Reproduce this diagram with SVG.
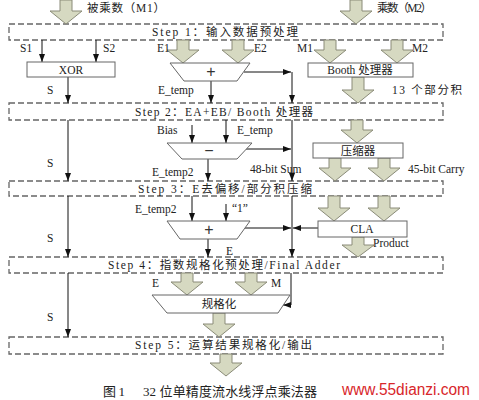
<svg xmlns="http://www.w3.org/2000/svg" width="479" height="400" viewBox="0 0 479 400">
<defs>
<style>
.step{fill:none;stroke:#666;stroke-width:1.3;stroke-dasharray:6 3}
.box{fill:#fff;stroke:#666;stroke-width:1}
.fat{fill:#d6d9c1;stroke:#8a8b78;stroke-width:1}
.ln{fill:none;stroke:#111;stroke-width:1}
.t{font-family:"Liberation Serif","Noto Sans CJK SC",serif;font-size:11.5px;fill:#222}
.c{text-anchor:middle}
.op{font-family:"Liberation Sans",sans-serif;font-size:16px;fill:#333;text-anchor:middle}
</style>
<marker id="ah" viewBox="0 0 8 6" refX="8" refY="3" markerWidth="8" markerHeight="6" orient="auto" markerUnits="userSpaceOnUse"><path d="M0,0 L8,3 L0,6 z" fill="#111"/></marker>
</defs>
<rect width="479" height="400" fill="#fff"/>

<g id="step1"><rect class="step" x="9" y="24" width="434" height="16"/><text class="t" x="152" y="36" textLength="146" lengthAdjust="spacing">Step 1：输入数据预处理</text></g>
<g id="step2"><rect class="step" x="9" y="103" width="434" height="17"/><text class="t" x="135" y="116" textLength="178" lengthAdjust="spacing">Step 2：EA+EB/ Booth 处理器</text></g>
<g id="step3"><rect class="step" x="9" y="181" width="434" height="15"/><text class="t" x="138" y="193" textLength="174" lengthAdjust="spacing">Step 3：E去偏移/部分积压缩</text></g>
<g id="step4"><rect class="step" x="9" y="257" width="434" height="16"/><text class="t" x="108" y="269" textLength="232" lengthAdjust="spacing">Step 4：指数规格化预处理/Final Adder</text></g>
<g id="step5"><rect class="step" x="9" y="337" width="434" height="17"/><text class="t" x="135" y="349" textLength="177" lengthAdjust="spacing">Step 5：运算结果规格化/输出</text></g>

<g id="connectors">
<path class="fat" d="M60 0 H72 V11 H82 L66 24 L50 11 H60 Z"/>
<path class="fat" d="M350 0 H362 V11 H372 L356 24 L340 11 H350 Z"/>
<path class="fat" d="M177 40 H189 V50 H199 L183 63 L167 50 H177 Z"/>
<path class="fat" d="M232 40 H244 V50 H254 L238 63 L222 50 H232 Z"/>
<path class="fat" d="M324 40 H336 V50 H346 L330 63 L314 50 H324 Z"/>
<path class="fat" d="M391 40 H403 V50 H413 L397 63 L381 50 H391 Z"/>
<path class="fat" d="M352 77 H364 V90 H374 L358 103 L342 90 H352 Z"/>
<path class="fat" d="M351 120 H363 V130 H373 L357 143 L341 130 H351 Z"/>
<path class="fat" d="M329 158 H341 V168 H351 L335 181 L319 168 H329 Z"/>
<path class="fat" d="M378 158 H390 V168 H400 L384 181 L368 168 H378 Z"/>
<path class="fat" d="M328 196 H340 V208 H350 L334 221 L318 208 H328 Z"/>
<path class="fat" d="M378 196 H390 V208 H400 L384 221 L368 208 H378 Z"/>
<path class="fat" d="M352 237 H364 V245 H374 L358 257 L342 245 H352 Z"/>
<path class="fat" d="M181 273 H193 V282 H203 L187 295 L171 282 H181 Z"/>
<path class="fat" d="M245 273 H257 V282 H267 L251 295 L235 282 H245 Z"/>
<path class="fat" d="M213 313 H225 V324 H235 L219 337 L203 324 H213 Z"/>
<path class="fat" d="M220 354 H232 V363 H242 L226 376 L210 363 H220 Z"/>

<line class="ln" x1="42" y1="40" x2="42" y2="62" marker-end="url(#ah)"/>
<line class="ln" x1="96" y1="40" x2="96" y2="62" marker-end="url(#ah)"/>
<line class="ln" x1="68" y1="77" x2="68" y2="103" marker-end="url(#ah)"/>
<line class="ln" x1="68" y1="120" x2="68" y2="181" marker-end="url(#ah)"/>
<line class="ln" x1="68" y1="196" x2="68" y2="257" marker-end="url(#ah)"/>
<line class="ln" x1="68" y1="273" x2="68" y2="337" marker-end="url(#ah)"/>

<line class="ln" x1="211" y1="81" x2="211" y2="103" marker-end="url(#ah)"/>
<line class="ln" x1="244" y1="72" x2="291" y2="72" marker-end="url(#ah)"/>
<line class="ln" x1="292" y1="72" x2="292" y2="103" marker-end="url(#ah)"/>

<line class="ln" x1="192" y1="125" x2="192" y2="143" marker-end="url(#ah)"/>
<line class="ln" x1="226" y1="120" x2="226" y2="143" marker-end="url(#ah)"/>
<line class="ln" x1="208" y1="159" x2="208" y2="181" marker-end="url(#ah)"/>
<line class="ln" x1="246" y1="149" x2="291" y2="149" marker-end="url(#ah)"/>
<line class="ln" x1="292" y1="120" x2="292" y2="181" marker-end="url(#ah)"/>

<line class="ln" x1="192" y1="196" x2="192" y2="221" marker-end="url(#ah)"/>
<line class="ln" x1="226" y1="204" x2="226" y2="221" marker-end="url(#ah)"/>
<line class="ln" x1="208" y1="239" x2="208" y2="257" marker-end="url(#ah)"/>
<line class="ln" x1="245" y1="228" x2="291" y2="228" marker-end="url(#ah)"/>
<line class="ln" x1="318" y1="228" x2="293" y2="228" marker-end="url(#ah)"/>
<line class="ln" x1="292" y1="196" x2="292" y2="257" marker-end="url(#ah)"/>

<polyline class="ln" points="291,273 291,305 283,305" marker-end="url(#ah)"/>

<text class="t" x="87" y="12" textLength="78" lengthAdjust="spacing">被乘数（M1）</text>
<text class="t" x="377" y="12" textLength="55" lengthAdjust="spacing">乘数（M2）</text>
<text class="t" x="20" y="52">S1</text>
<text class="t" x="103" y="52">S2</text>
<text class="t" x="157" y="52">E1</text>
<text class="t" x="254" y="52">E2</text>
<text class="t" x="297" y="52">M1</text>
<text class="t" x="412" y="52">M2</text>
<text class="t" x="47" y="94">S</text>
<text class="t" x="158" y="94">E_temp</text>
<text class="t" x="392" y="94" textLength="70" lengthAdjust="spacing">13 个部分积</text>
<text class="t" x="157" y="134">Bias</text>
<text class="t" x="237" y="134">E_temp</text>
<text class="t" x="152" y="176">E_temp2</text>
<text class="t" x="47" y="167">S</text>
<text class="t" x="250" y="173">48-bit Sum</text>
<text class="t" x="408" y="173">45-bit Carry</text>
<text class="t" x="135" y="213">E_temp2</text>
<text class="t" x="232" y="212">“1”</text>
<text class="t" x="47" y="242">S</text>
<text class="t" x="226" y="255">E</text>
<text class="t" x="373" y="247">Product</text>
<text class="t" x="152" y="287">E</text>
<text class="t" x="271" y="287">M</text>
<text class="t" x="47" y="321">S</text>
</g>

<g id="xor"><rect class="box" x="27" y="62" width="88" height="15"/><text class="t c" x="71" y="74">XOR</text></g>
<g id="adder1"><polygon class="box" points="170,63 250,63 237,81 184,81"/><text class="op" x="211" y="77">+</text></g>
<g id="booth"><rect class="box" x="308" y="63" width="105" height="14"/><text class="t c" x="360" y="74">Booth 处理器</text></g>
<g id="subtractor"><polygon class="box" points="167,143 252,143 237,159 182,159"/><text class="op" x="209" y="156">−</text></g>
<g id="compressor"><rect class="box" x="313" y="143" width="90" height="15"/><text class="t c" x="358" y="155">压缩器</text></g>
<g id="adder2"><polygon class="box" points="167,221 250,221 237,239 180,239"/><text class="op" x="209" y="235">+</text></g>
<g id="cla"><rect class="box" x="318" y="221" width="89" height="16"/><text class="t c" x="362" y="233">CLA</text></g>
<g id="normalize"><polygon class="box" points="152,295 290,295 278,313 167,313"/><text class="t c" x="219" y="308">规格化</text></g>

<text class="t" x="103" y="396" style="font-size:13px" textLength="22" lengthAdjust="spacing">图 1</text>
<text class="t" x="143" y="396" style="font-size:13px" textLength="174" lengthAdjust="spacing">32 位单精度流水线浮点乘法器</text>
<text x="342" y="395" style="font-family:'Liberation Sans',sans-serif;font-size:16px;fill:#d8262a" textLength="128" lengthAdjust="spacingAndGlyphs">www.55dianzi.com</text>
</svg>
